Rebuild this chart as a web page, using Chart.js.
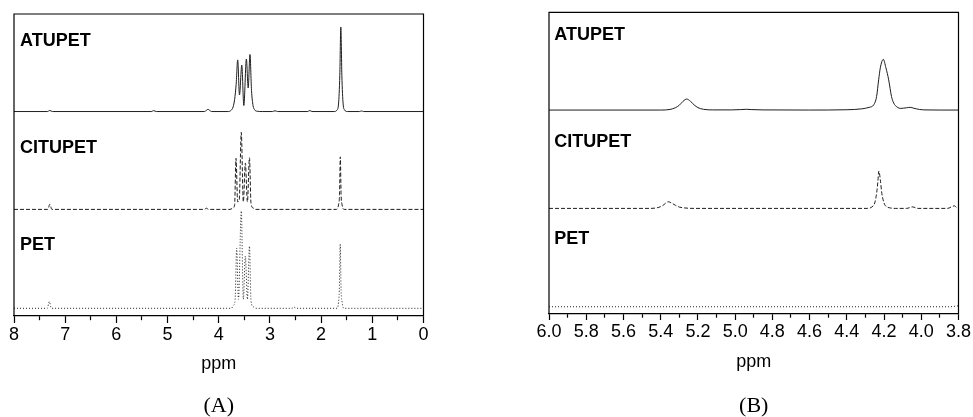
<!DOCTYPE html>
<html><head><meta charset="utf-8">
<script src="https://cdn.jsdelivr.net/npm/chart.js@4.4.1/dist/chart.umd.min.js"></script>
<style>
html,body{margin:0;padding:0;background:#fff;}
#wrap{position:relative;width:973px;height:417px;overflow:hidden;}
canvas{position:absolute;top:0;}
#cA{left:0;width:486px;height:417px;}
#cB{left:486px;width:487px;height:417px;}
</style></head><body>
<div id="wrap"><canvas id="cA" width="486" height="417"></canvas><canvas id="cB" width="487" height="417"></canvas></div>
<script>
// ---------- DATA ----------
const SAMPLES = ['ATUPET', 'CITUPET', 'PET'];
const PANEL_NAMES = ['(A)', '(B)'];
const AXIS_TITLE = 'ppm';
const A_TICK_LABELS = [8, 7, 6, 5, 4, 3, 2, 1, 0];
const B_TICK_LABELS = [6.0, 5.8, 5.6, 5.4, 5.2, 5.0, 4.8, 4.6, 4.4, 4.2, 4.0, 3.8];

// Panel A, full range 8-0 ppm (intensity relative to each trace baseline)
const A_OFFSETS = [67.7, 35.3, 2.55];
const A_ATUPET_PPM = [8.00, 7.35, 7.30, 7.25, 5.32, 5.27, 5.22, 4.28, 4.24, 4.21, 4.18, 4.14, 3.82, 3.76, 3.72, 3.69, 3.66, 3.63, 3.595, 3.55, 3.51, 3.46, 3.425, 3.39, 3.36, 3.33, 3.30, 3.25, 3.15, 2.95, 2.90, 2.85, 2.26, 2.22, 2.18, 1.74, 1.69, 1.66, 1.635, 1.615, 1.595, 1.57, 1.54, 1.49, 1.25, 1.21, 1.17, 0.00];
const A_ATUPET_INT = [0, 0, 0.35, 0, 0, 0.3, 0, 0, 0.4, 0.75, 0.4, 0, 0, 0.4, 1.5, 4, 9, 17.1, 5.5, 15.4, 2.0, 17.4, 7.8, 18.9, 7, 2, 0.6, 0.1, 0, 0, 0.25, 0, 0, 0.35, 0, 0, 0.5, 2.5, 12, 28, 12, 2.5, 0.5, 0, 0, 0.2, 0, 0];
const A_CITUPET_PPM = [8.00, 7.34, 7.30, 7.26, 4.28, 4.24, 4.20, 3.78, 3.72, 3.69, 3.663, 3.63, 3.60, 3.56, 3.52, 3.48, 3.44, 3.40, 3.37, 3.33, 3.28, 1.70, 1.66, 1.64, 1.625, 1.61, 1.59, 1.55, 0.00];
const A_CITUPET_INT = [0, 0, 1.7, 0, 0, 0.4, 0, 0, 0.5, 1.5, 16.9, 2.5, 3, 25.5, 2.5, 15.3, 2.5, 17.1, 2, 0.5, 0, 0, 1.5, 5, 17.4, 5, 1.5, 0, 0];
const A_PET_PPM = [8.00, 7.35, 7.31, 7.27, 3.76, 3.71, 3.68, 3.65, 3.615, 3.56, 3.52, 3.48, 3.44, 3.40, 3.37, 3.33, 3.28, 2.57, 2.53, 2.49, 1.69, 1.66, 1.645, 1.627, 1.61, 1.59, 1.56, 0.00];
const A_PET_INT = [0, 0, 2.2, 0, 0, 1, 3, 19.9, 3, 32.2, 3, 17.3, 3, 20.6, 2.5, 0.6, 0, 0, 0.4, 0, 0, 2, 6, 21.3, 6, 2, 0, 0];

// Panel B, zoom 6.0-3.8 ppm
const B_OFFSETS = [67.6, 35.0, 2.4];
const B_ATUPET_PPM = [6.00, 5.40, 5.35, 5.32, 5.30, 5.28, 5.26, 5.24, 5.22, 5.20, 5.17, 5.12, 5.02, 4.97, 4.94, 4.91, 4.85, 4.60, 4.40, 4.32, 4.28, 4.256, 4.24, 4.229, 4.22, 4.204, 4.19, 4.175, 4.16, 4.148, 4.13, 4.11, 4.08, 4.06, 4.04, 4.01, 3.98, 3.90, 3.80];
const B_ATUPET_INT = [0, 0, 0.2, 0.8, 1.6, 2.9, 3.65, 2.9, 1.7, 0.8, 0.25, 0.05, 0.05, 0.15, 0.25, 0.15, 0.05, 0, 0.1, 0.4, 0.9, 1.7, 4.5, 10, 14, 16.8, 14, 10, 4.5, 2.3, 1.0, 0.55, 0.75, 0.9, 0.6, 0.2, 0.05, 0, 0];
const B_CITUPET_PPM = [6.00, 5.46, 5.42, 5.39, 5.37, 5.359, 5.345, 5.32, 5.30, 5.27, 5.22, 4.29, 4.265, 4.25, 4.24, 4.233, 4.228, 4.22, 4.212, 4.20, 4.19, 4.17, 4.14, 4.08, 4.046, 4.02, 3.86, 3.822, 3.81, 3.80];
const B_CITUPET_INT = [0, 0, 0.2, 0.9, 1.9, 2.2, 1.9, 1.0, 0.45, 0.15, 0, 0, 0.5, 1.8, 5, 9, 12.4, 9.5, 5, 1.8, 0.7, 0.2, 0, 0, 0.5, 0, 0, 0.85, 0.3, 0.2];
const B_PET_PPM = [6.00, 3.85, 3.80];
const B_PET_INT = [0, 0, 0.3];

// ---------- STYLE ----------
const LINE_COLOR = '#1e1e1e';
const DASHES = [[], [4, 2], [1, 2]];
Chart.defaults.font.family = '"Liberation Sans", Arial, Helvetica, sans-serif';
Chart.defaults.color = '#000';

function makeDatasets(ppmArrs, intArrs, offsets) {
  return SAMPLES.map((name, i) => ({
    label: name,
    data: ppmArrs[i].map((p, j) => ({x: p, y: offsets[i] + intArrs[i][j]})),
    borderColor: LINE_COLOR,
    borderWidth: 1,
    borderDash: DASHES[i],
    pointRadius: 0,
    cubicInterpolationMode: 'monotone',
    fill: false
  }));
}

const decor = {
  id: 'decor',
  afterDraw(chart, args, opts) {
    const {ctx, chartArea} = chart;
    const {left, right, top, bottom} = chartArea;
    ctx.save();
    ctx.strokeStyle = '#000';
    ctx.lineWidth = 1.2;
    ctx.beginPath();
    ctx.moveTo(left, bottom);
    ctx.lineTo(left, top);
    ctx.lineTo(right, top);
    ctx.lineTo(right, bottom);
    ctx.stroke();
    ctx.fillStyle = '#000';
    ctx.font = 'bold 18px "Liberation Sans", Arial, sans-serif';
    ctx.textAlign = 'left';
    ctx.textBaseline = 'alphabetic';
    SAMPLES.forEach((t, i) => ctx.fillText(t, left + opts.dx, top + opts.dy[i]));
    ctx.font = '22px "Liberation Serif", "Times New Roman", serif';
    ctx.textAlign = 'center';
    ctx.textBaseline = 'middle';
    ctx.fillText(opts.panel, (left + right) / 2, opts.panelY);
    ctx.restore();
  }
};

function makeChart(id, cfg) {
  return new Chart(document.getElementById(id), {
    type: 'line',
    data: {datasets: cfg.datasets},
    options: {
      responsive: false,
      animation: false,
      devicePixelRatio: 1,
      layout: {padding: cfg.padding},
      plugins: {legend: {display: false}, tooltip: {enabled: false}, decor: cfg.decor},
      scales: {
        x: {
          type: 'linear', reverse: true, min: cfg.min, max: cfg.max,
          afterFit(s) { s.height = cfg.axisHeight; },
          border: {display: true, color: '#000', width: 1.2},
          grid: {
            drawOnChartArea: false, drawTicks: true, tickLength: cfg.tickLen,
            tickColor: '#000', tickWidth: 1.2,
            tickBorderDash: (c) => (c.tick && cfg.isMajor(c.tick.value)) ? [] : [cfg.minorLen, 100]
          },
          ticks: {
            stepSize: cfg.step, autoSkip: false, maxRotation: 0, minRotation: 0,
            padding: 1.7, color: '#000', font: {size: 18},
            callback: (v) => cfg.isMajor(v) ? cfg.fmt(v) : ''
          },
          title: {display: true, text: AXIS_TITLE, color: '#000', font: {size: 18}, padding: {top: 0, bottom: cfg.titlePad}}
        },
        y: {display: false, min: 0, max: 100}
      }
    },
    plugins: [decor]
  });
}

makeChart('cA', {
  datasets: makeDatasets([A_ATUPET_PPM, A_CITUPET_PPM, A_PET_PPM], [A_ATUPET_INT, A_CITUPET_INT, A_PET_INT], A_OFFSETS),
  padding: {left: 14, top: 14, right: 62.5, bottom: 0},
  min: 0, max: 8, step: 0.5, axisHeight: 101, tickLen: 7, minorLen: 4, titlePad: 42,
  isMajor: (v) => A_TICK_LABELS.some(t => Math.abs(t - v) < 1e-6),
  fmt: (v) => String(Math.round(v)),
  decor: {dx: 6, dy: [31.7, 139.3, 236], panel: PANEL_NAMES[0], panelY: 406.3}
});

makeChart('cB', {
  datasets: makeDatasets([B_ATUPET_PPM, B_CITUPET_PPM, B_PET_PPM], [B_ATUPET_INT, B_CITUPET_INT, B_PET_INT], B_OFFSETS),
  padding: {left: 63, top: 12.3, right: 14.5, bottom: 0},
  min: 3.8, max: 6.0, step: 0.1, axisHeight: 103, tickLen: 6, minorLen: 3.5, titlePad: 44,
  isMajor: (v) => B_TICK_LABELS.some(t => Math.abs(t - v) < 1e-6),
  fmt: (v) => v.toFixed(1),
  decor: {dx: 5.3, dy: [27.7, 134.4, 232], panel: PANEL_NAMES[1], panelY: 406.5}
});
</script>
</body></html>
